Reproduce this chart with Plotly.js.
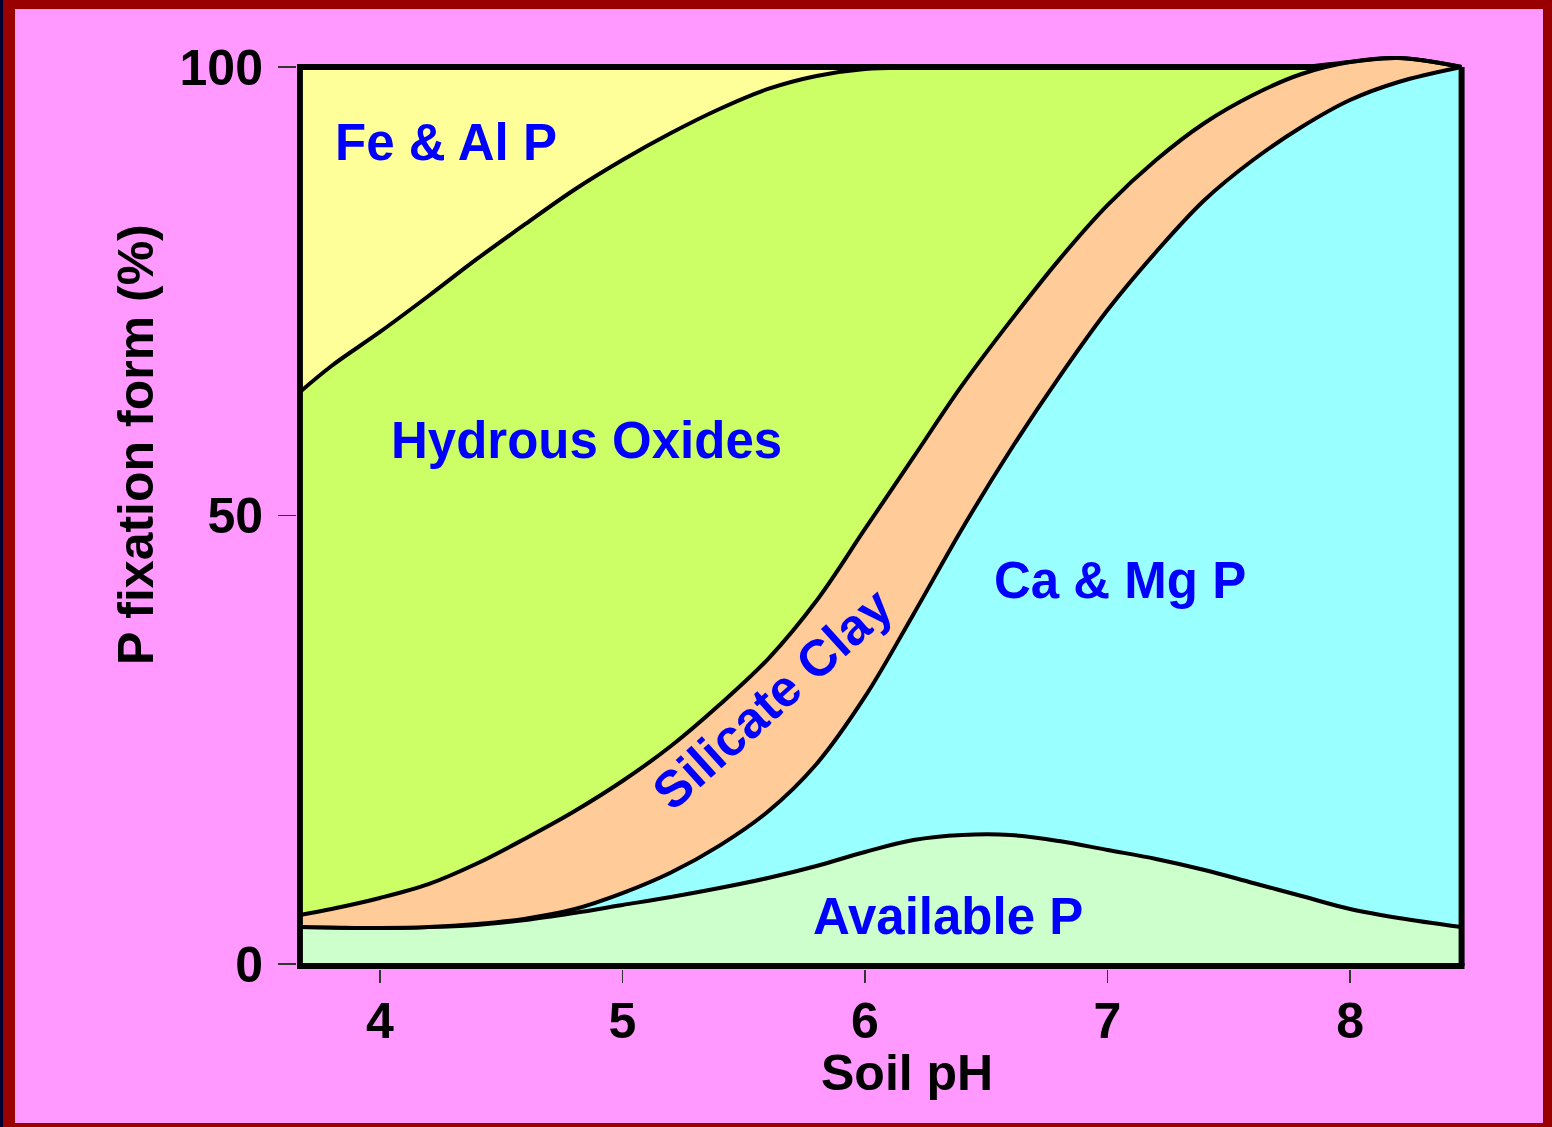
<!DOCTYPE html>
<html>
<head>
<meta charset="utf-8">
<script src="https://cdn.plot.ly/plotly-3.0.1.min.js"></script>
<style>
  html, body { margin: 0; padding: 0; width: 1552px; height: 1127px; overflow: hidden; background: #990000; }
  #strip { position: absolute; left: 0; top: 0; width: 3px; height: 1127px; background: #000033; }
  #chart { position: absolute; left: 15px; top: 9px; width: 1528px; height: 1114px; }
</style>
</head>
<body>
<div id="strip"></div>
<div id="chart"></div>
<script>
// Soil pH sample points
const soilPH = [3.67, 3.8, 4.0, 4.2, 4.4, 4.6, 4.8, 5.0, 5.2, 5.4, 5.6, 5.8, 6.0, 6.2, 6.4, 6.6, 6.8, 7.0, 7.2, 7.4, 7.6, 7.8, 8.0, 8.2, 8.46];

// Cumulative upper boundary (%) of each fixation form
const availableTop = [4.12, 4.07, 4.01, 4.12, 4.35, 4.91, 5.69, 6.58, 7.47, 8.47, 9.59, 10.93, 12.49, 13.82, 14.38, 14.38, 13.71, 12.71, 11.71, 10.48, 9.03, 7.58, 6.13, 5.13, 4.12];
const caMgTop      = [4.12, 4.07, 4.01, 4.12, 4.46, 5.06, 6.1, 7.9, 10.2, 13.2, 17.0, 22.3, 29.8, 39.0, 48.5, 57.3, 65.4, 72.9, 79.38, 85.17, 89.63, 93.31, 96.32, 98.33, 100];
const silicateTop  = [5.46, 6.13, 7.36, 8.9, 11.2, 14.0, 17.0, 20.4, 24.3, 28.9, 34.0, 40.5, 48.5, 56.5, 64.5, 71.7, 78.5, 84.6, 89.63, 93.76, 96.88, 99.22, 100.56, 101.0, 100];
const hydrousTop   = [63.77, 66.67, 70.46, 74.47, 78.60, 82.50, 86.29, 89.63, 92.64, 95.32, 97.55, 99.00, 99.78, 99.94, 100, 100, 100, 100, 100, 100, 100, 100, 100, 100, 100];
const feAlTop      = [100, 100, 100, 100, 100, 100, 100, 100, 100, 100, 100, 100, 100, 100, 100, 100, 100, 100, 100, 100, 100, 100, 100, 100, 100];

const xTicks = [4, 5, 6, 7, 8];
const yTicks = [0, 50, 100];

const formNames = ['Available P', 'Ca & Mg P', 'Silicate Clay', 'Hydrous Oxides', 'Fe & Al P'];
const formColors = ['#CCFFCC', '#99FFFF', '#FFCC99', '#CCFF66', '#FFFF99'];

// keep boundaries monotone where a layer has vanished
const hydrousEdge = hydrousTop.map((v, i) => Math.max(v, silicateTop[i]));
const feAlEdge = feAlTop.map((v, i) => Math.max(v, hydrousEdge[i]));
const boundaries = [availableTop, caMgTop, silicateTop, hydrousEdge, feAlEdge];

const traces = boundaries.map((b, i) => ({
  type: 'scatter',
  mode: 'lines',
  x: soilPH,
  y: b,
  name: formNames[i],
  fill: i === 0 ? 'tozeroy' : 'tonexty',
  fillcolor: formColors[i],
  line: { color: '#000000', width: i === 4 ? 0 : 4, shape: 'spline', smoothing: 1 },
  hoverinfo: 'skip',
  showlegend: false
}));

const font = { family: 'Liberation Sans, Arial, sans-serif', weight: 'bold' };
const blue = '#0000FF';

const labelFont = Object.assign({}, font, { size: 51, color: blue });
const annotations = [
  { x: 4.272, y: 91.6, text: 'Fe & Al P' },
  { x: 4.853, y: 58.4, text: 'Hydrous Oxides' },
  { x: 7.050, y: 42.7, text: 'Ca & Mg P' },
  { x: 6.341, y: 5.3, text: 'Available P' },
  { x: 5.620, y: 29.6, text: 'Silicate Clay', textangle: -42 }
].map(a => Object.assign({ xref: 'x', yref: 'y', showarrow: false, font: labelFont, xanchor: 'center', yanchor: 'middle' }, a));

// axis titles
const titleFont = Object.assign({}, font, { size: 50, color: '#000000' });
annotations.push({ xref: 'paper', yref: 'paper', x: 0.5223, y: -0.1132, text: 'Soil pH', showarrow: false, font: titleFont, xanchor: 'center', yanchor: 'middle' });
annotations.push({ xref: 'paper', yref: 'paper', x: -0.1378, y: 0.5702, text: 'P fixation form (%)', textangle: -90, showarrow: false, font: titleFont, xanchor: 'center', yanchor: 'middle' });

const frameX0 = soilPH[0], frameX1 = soilPH[soilPH.length - 1];
const frameLine = { color: '#000000', width: 6 };
const shapes = [
  { type: 'line', xref: 'x', yref: 'y', x0: frameX0, x1: frameX0, y0: -0.22, y1: 100, line: frameLine, layer: 'above' },
  { type: 'line', xref: 'x', yref: 'y', x0: frameX1, x1: frameX1, y0: -0.22, y1: 100, line: frameLine, layer: 'above' },
  { type: 'line', xref: 'x', yref: 'y', x0: frameX0 - 0.012, x1: frameX1 + 0.012, y0: -0.22, y1: -0.22, line: frameLine, layer: 'above' },
  { type: 'line', xref: 'x', yref: 'y', x0: frameX0 - 0.012, x1: 7.88, y0: 100, y1: 100, line: frameLine, layer: 'above' }
];

const layout = {
  width: 1528,
  height: 1114,
  margin: { l: 282, r: 78, t: 41, b: 154 },
  paper_bgcolor: '#FF99FF',
  plot_bgcolor: 'rgba(0,0,0,0)',
  showlegend: false,
  xaxis: {
    range: [3.658, 8.474],
    tickvals: xTicks,
    ticktext: xTicks.map(String),
    ticks: 'outside', ticklen: 13, tickwidth: 1.5, tickcolor: '#333333',
    ticklabelstandoff: -5,
    showgrid: false, zeroline: false, showline: false,
    tickfont: Object.assign({}, font, { size: 50, color: '#000000' })
  },
  yaxis: {
    range: [-0.557, 101.895],
    tickvals: yTicks,
    ticktext: yTicks.map(String),
    ticks: 'outside', ticklen: 18, tickwidth: 1.5, tickcolor: '#333333',
    ticklabelstandoff: 5,
    showgrid: false, zeroline: false, showline: false,
    tickfont: Object.assign({}, font, { size: 50, color: '#000000' })
  },
  annotations: annotations,
  shapes: shapes
};

Plotly.newPlot('chart', traces, layout, { staticPlot: true, displayModeBar: false });
</script>
</body>
</html>
